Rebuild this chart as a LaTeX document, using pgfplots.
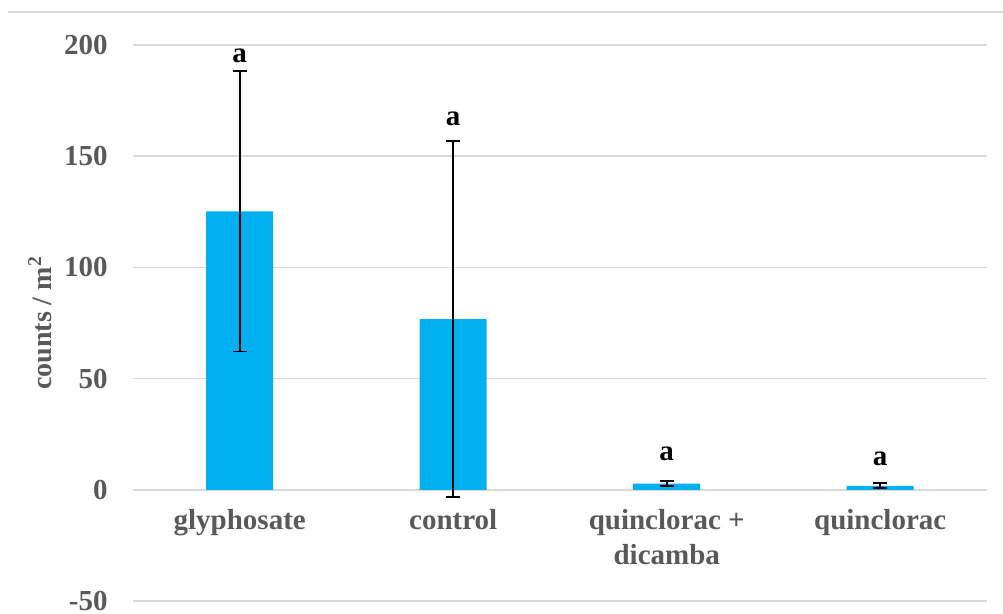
\documentclass[border=0pt]{standalone}
\usepackage{pgfplots}
\pgfplotsset{compat=1.18}
\usepackage{fontspec}
\setmainfont{Liberation Serif}
\definecolor{barblue}{HTML}{00B0F0}
\definecolor{ticktext}{HTML}{595959}
\definecolor{gridgray}{HTML}{D9D9D9}
\begin{document}
\begin{tikzpicture}
\path[use as bounding box] (-66.5pt,-6.5pt) rectangle (435pt,300.5pt);
% chart frame top edge
\draw[gridgray, line width=0.8pt] (-62.5pt,294.5pt) -- (435pt,294.5pt);
\begin{axis}[
  at={(0,0)}, anchor=south west,
  scale only axis,
  width=427pt, height=278pt,
  xmin=-0.5, xmax=3.5,
  ymin=-50, ymax=200,
  ytick={-50,0,50,100,150,200},
  xtick={0,1,2,3},
  xticklabels={glyphosate, control, {quinclorac +\\dicamba}, quinclorac},
  axis x line=middle, axis y line=left,
  axis line style={draw=none, -},
  hide obscured y ticks=false,
  hide obscured x ticks=false,
  major tick length=0pt,
  ymajorgrids,
  grid style={gridgray, line width=0.8pt},
  /pgf/number format/assume math mode=true,
  tick label style={font=\fontsize{14.5}{17.5}\selectfont\bfseries, text=ticktext},
  yticklabel style={anchor=east, inner sep=0pt, xshift=-12.5pt},
  xticklabel style={align=center, anchor=north, inner sep=0pt, yshift=-9.5pt},
  ylabel={counts / m\textsuperscript{2}},
  every axis y label/.style={at={(axis description cs:0,0.5)}, xshift=-46.5pt, rotate=90, anchor=center,
    font=\fontsize{14}{16}\selectfont\bfseries, text=ticktext},
  ybar, bar width=33.5pt,
  clip=false,
]
\addplot[fill=barblue, draw=none,
  error bars/.cd, y dir=both, y explicit,
  error bar style={black, line width=0.9pt},
  error mark options={black, line width=0.9pt, mark size=3.5pt, rotate=90}]
coordinates {
  (0,125.2) +- (0,63.0)
  (1,76.7)  +- (0,80.0)
  (2,2.8)   +- (0,1.2)
  (3,1.8)   +- (0,1.1)
};
% significance letters
\foreach \xx/\yy in {0/195, 1/167, 2/16.3, 3/14}{
  \edef\tmp{\noexpand\node[anchor=center, inner sep=0pt, font=\noexpand\fontsize{14.5}{17}\noexpand\selectfont\noexpand\bfseries] at (axis cs:\xx,\yy) {a};}
  \tmp
}
\end{axis}
\end{tikzpicture}
\end{document}
